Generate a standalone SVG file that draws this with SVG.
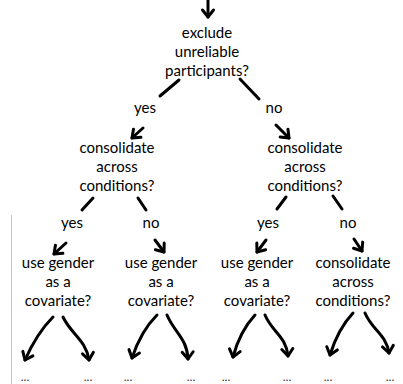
<svg xmlns="http://www.w3.org/2000/svg" width="403" height="384" viewBox="0 0 403 384">
  <style>
    text { font-family: Lato, "Open Sans", "Liberation Sans", sans-serif; font-size: 15px; fill: #000; text-anchor: middle; }
    .dots { font-size: 12px; fill: #333; }
    .edge { fill: none; stroke: #000; stroke-width: 3; stroke-linecap: round; stroke-linejoin: round; }
    .arrow { marker-end: url(#ah); }
  </style>
  <defs>
    <marker id="ah" viewBox="-10 -8 13 16" markerWidth="13" markerHeight="16" refX="0" refY="0" orient="auto" markerUnits="userSpaceOnUse" overflow="visible">
      <path d="M-7,-5.5 L0,0 L-7,5.5" fill="none" stroke="#000" stroke-width="3" stroke-linecap="round" stroke-linejoin="round"/>
    </marker>
  </defs>
  <rect width="403" height="384" fill="#fff"/>

  <!-- margin rule at the left -->
  <line x1="11.5" y1="215" x2="11.5" y2="384" stroke="#c8c8c8" stroke-width="1"/>

  <!-- decision nodes -->
  <g id="n-exclude">
    <text x="207" y="38">exclude</text>
    <text x="207" y="57">unreliable</text>
    <text x="207" y="76">participants?</text>
  </g>
  <g id="n-consolidate-yes">
    <text x="117" y="153">consolidate</text>
    <text x="117" y="172">across</text>
    <text x="117" y="191">conditions?</text>
  </g>
  <g id="n-consolidate-no">
    <text x="305" y="153">consolidate</text>
    <text x="305" y="172">across</text>
    <text x="305" y="191">conditions?</text>
  </g>
  <g id="n-gender-1">
    <text x="58" y="268">use gender</text>
    <text x="58" y="287">as a</text>
    <text x="58" y="306">covariate?</text>
  </g>
  <g id="n-gender-2">
    <text x="161" y="268">use gender</text>
    <text x="161" y="287">as a</text>
    <text x="161" y="306">covariate?</text>
  </g>
  <g id="n-gender-3">
    <text x="257" y="268">use gender</text>
    <text x="257" y="287">as a</text>
    <text x="257" y="306">covariate?</text>
  </g>
  <g id="n-consolidate-3">
    <text x="353" y="268">consolidate</text>
    <text x="353" y="287">across</text>
    <text x="353" y="306">conditions?</text>
  </g>

  <!-- continuation leaves -->
  <g id="leaves">
    <text class="dots" x="25" y="381">...</text>
    <text class="dots" x="88" y="381">...</text>
    <text class="dots" x="128" y="381">...</text>
    <text class="dots" x="191" y="381">...</text>
    <text class="dots" x="226" y="381">...</text>
    <text class="dots" x="287" y="381">...</text>
    <text class="dots" x="328" y="381">...</text>
    <text class="dots" x="390" y="381">...</text>
  </g>

  <!-- connectors and their labels -->
  <g id="connectors">
    <path class="edge arrow" d="M208,0 L208,17"/>

    <path class="edge" d="M179,80 L160,96"/>
    <path class="edge" d="M240,79 L259,99"/>
    <text x="145" y="113">yes</text>
    <text x="274" y="113">no</text>
    <path class="edge arrow" d="M143,128 L132,138"/>
    <path class="edge arrow" d="M276,125 L289,138"/>

    <path class="edge" d="M93,198 L82,210"/>
    <path class="edge" d="M138,198 L146,210"/>
    <path class="edge" d="M286,197 L277,209"/>
    <path class="edge" d="M333,196 L342,209"/>
    <text x="72" y="228">yes</text>
    <text x="151" y="228">no</text>
    <text x="268" y="228">yes</text>
    <text x="348" y="228">no</text>
    <path class="edge arrow" d="M66,243 L54,254"/>
    <path class="edge arrow" d="M155,240 L164,252"/>
    <path class="edge arrow" d="M266,240 L257,252"/>
    <path class="edge arrow" d="M354,239 L362,251"/>

    <path class="edge arrow" d="M53,317 Q37,333 25,360"/>
    <path class="edge arrow" d="M63,317 C71,334 86,340 89,360"/>
    <path class="edge arrow" d="M157,315 Q141,331 132,358"/>
    <path class="edge arrow" d="M167,315 C174,332 187,338 188,359"/>
    <path class="edge arrow" d="M255,315 Q240,331 233,357"/>
    <path class="edge arrow" d="M265,315 C272,332 286,336 288,356"/>
    <path class="edge arrow" d="M353,313 Q338,329 330,355"/>
    <path class="edge arrow" d="M365,313 C372,330 386,334 389,353"/>
  </g>
</svg>
